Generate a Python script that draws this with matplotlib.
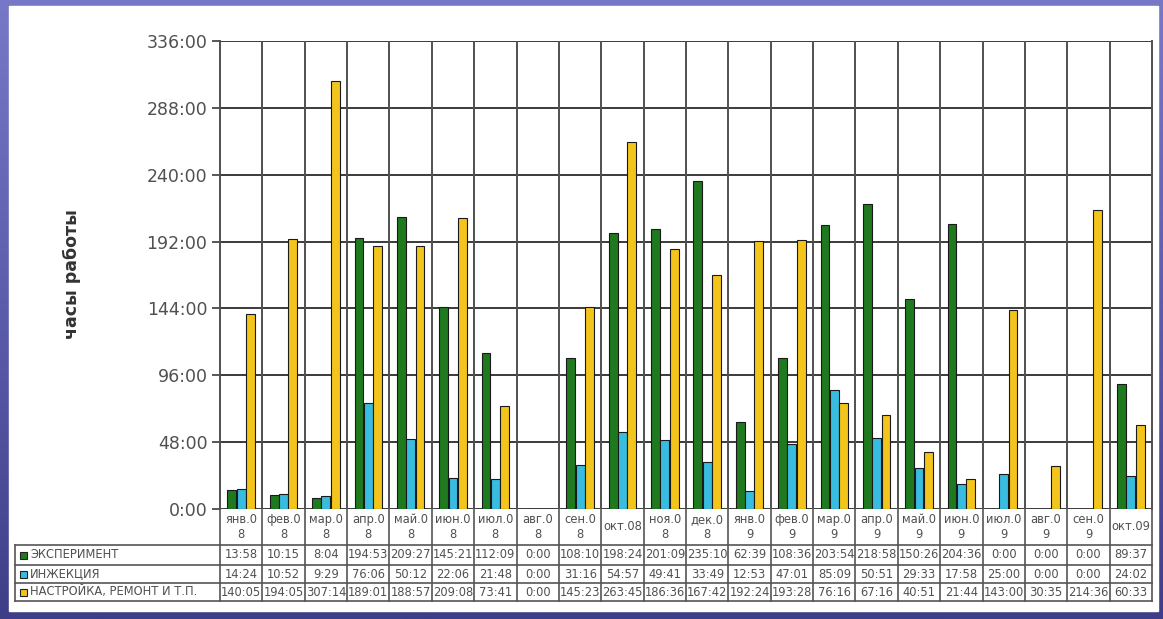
import numpy as np
import matplotlib
matplotlib.use("Agg")
import matplotlib.pyplot as plt
from matplotlib.colors import LinearSegmentedColormap

# Monthly working hours, Jan 2008 - Oct 2009 (values as hh:mm)
months = ["янв.0\n8", "фев.0\n8", "мар.0\n8", "апр.0\n8", "май.0\n8", "июн.0\n8",
          "июл.0\n8", "авг.0\n8", "сен.0\n8", "окт.08", "ноя.0\n8", "дек.0\n8",
          "янв.0\n9", "фев.0\n9", "мар.0\n9", "апр.0\n9", "май.0\n9", "июн.0\n9",
          "июл.0\n9", "авг.0\n9", "сен.0\n9", "окт.09"]

experiment = ["13:58", "10:15", "8:04", "194:53", "209:27", "145:21", "112:09", "0:00",
              "108:10", "198:24", "201:09", "235:10", "62:39", "108:36", "203:54",
              "218:58", "150:26", "204:36", "0:00", "0:00", "0:00", "89:37"]
injection = ["14:24", "10:52", "9:29", "76:06", "50:12", "22:06", "21:48", "0:00",
             "31:16", "54:57", "49:41", "33:49", "12:53", "47:01", "85:09",
             "50:51", "29:33", "17:58", "25:00", "0:00", "0:00", "24:02"]
setup = ["140:05", "194:05", "307:14", "189:01", "188:57", "209:08", "73:41", "0:00",
         "145:23", "263:45", "186:36", "167:42", "192:24", "193:28", "76:16",
         "67:16", "40:51", "21:44", "143:00", "30:35", "214:36", "60:33"]

series_names = ["ЭКСПЕРИМЕНТ", "ИНЖЕКЦИЯ", "НАСТРОЙКА, РЕМОНТ И Т.П."]
series_vals = [experiment, injection, setup]
colors = ["#1f7a1f", "#38bce0", "#f2c41c"]


def to_hours(s):
    h, m = s.split(":")
    return int(h) + int(m) / 60.0


W, H = 1163, 619
fig = plt.figure(figsize=(W / 100, H / 100), dpi=100)

# purple gradient frame (lighter at the top)
bg = fig.add_axes([0, 0, 1, 1], zorder=-10)
cmap = LinearSegmentedColormap.from_list("frame", ["#7878c8", "#5c5cac", "#3e3e88"])
grad = np.linspace(0, 1, 256).reshape(-1, 1)
bg.imshow(grad, cmap=cmap, aspect="auto", extent=[0, 1, 1, 0])
bg.set_xlim(0, 1)
bg.set_ylim(1, 0)
bg.add_patch(plt.Rectangle((9 / W, 6 / H), 1149 / W, 605 / H, color="white"))
bg.axis("off")

# main chart
x0, x1 = 220, 1152
ax = fig.add_axes([x0 / W, (H - 509) / H, (x1 - x0) / W, 468 / H])
x = np.arange(len(months))
bw = 0.21
offsets = [-0.22, 0.0, 0.22]
for vals, off, c in zip(series_vals, offsets, colors):
    heights = [to_hours(v) for v in vals]
    ax.bar(x + off, heights, width=bw, color=c, edgecolor="#1a1a1a", linewidth=0.8, zorder=3)

ax.set_xlim(-0.5, len(months) - 0.5)
ax.set_ylim(0, 336)
yt = np.arange(0, 337, 48)
ax.set_yticks(yt)
ax.set_yticklabels([f"{v}:00" for v in yt], fontsize=12.5, color="#505050")
ax.set_xticks([])
for v in yt:
    ax.axhline(v, color="#3a3a3a", linewidth=1.4, zorder=1)
for b in np.arange(0.5, len(months) - 0.5):
    ax.axvline(b, color="#505050", linewidth=1.4, zorder=1)
for side in ["top", "bottom"]:
    ax.spines[side].set_visible(False)
for side in ["left", "right"]:
    ax.spines[side].set_color("#505050")
    ax.spines[side].set_linewidth(1.4)
ax.tick_params(axis="y", length=6, width=1.2, color="#3a3a3a", pad=3)
fig.text(72 / W, 1 - 274 / H, "часы работы", rotation=90, ha="center", va="center",
         fontsize=12.5, color="#333333", fontweight="bold")

# data table under the chart
tab = fig.add_axes([x0 / W, (H - 601) / H, (x1 - x0) / W, 92 / H])
tab.set_xlim(-0.5, len(months) - 0.5)
tab.set_ylim(601, 509)
tab.axis("off")
cw = (x1 - x0) / len(months)
left = -0.5 - (x0 - 15) / cw
lc = "#555555"
rows = [545, 565, 583, 601]
for r in rows:
    tab.plot([left, len(months) - 0.5], [r, r], color=lc, lw=1.2, clip_on=False)
for b in np.arange(-0.5, len(months)):
    tab.plot([b, b], [509, 601], color=lc, lw=1.2, clip_on=False)
tab.plot([left, left], [545, 601], color=lc, lw=1.2, clip_on=False)

fs = 8.3
for i, m in enumerate(months):
    tab.text(i, 527, m, ha="center", va="center", fontsize=fs, color="#505050",
             linespacing=1.2)
for k, (name, vals, c) in enumerate(zip(series_names, series_vals, colors)):
    yc = (rows[k] + rows[k + 1]) / 2
    tab.add_patch(plt.Rectangle((left + 5 / cw, yc - 3.5), 7 / cw, 7, facecolor=c,
                                edgecolor="#222222", lw=0.8, clip_on=False))
    tab.text(left + 15 / cw, yc, name, ha="left", va="center", fontsize=fs,
             color="#505050", clip_on=False)
    for i, v in enumerate(vals):
        tab.text(i, yc, v, ha="center", va="center", fontsize=fs, color="#505050")

fig.savefig("out.png", dpi=100)
